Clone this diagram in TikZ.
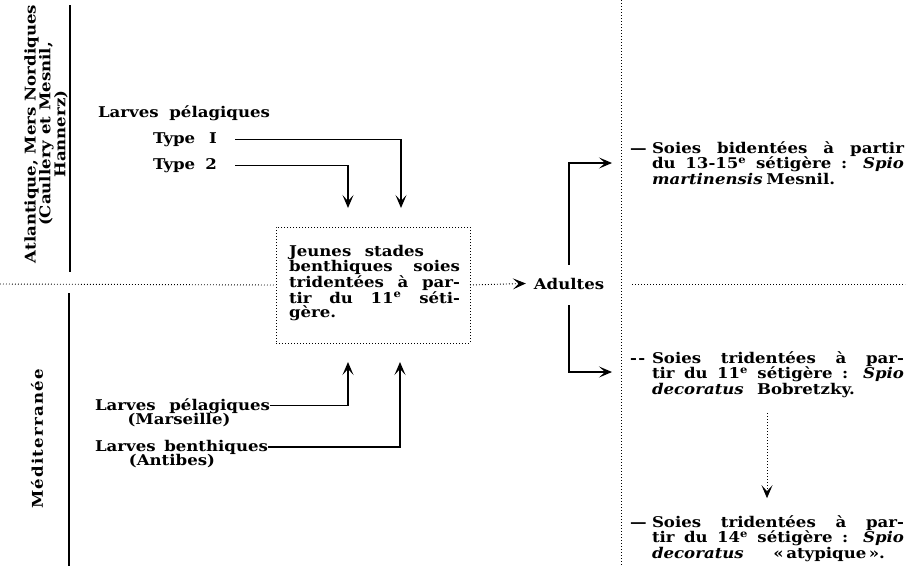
\documentclass[tikz,border=0pt]{standalone}
\usepackage{fontspec}
\setmainfont[FakeStretch=1.12]{DejaVu Serif}
\usetikzlibrary{arrows.meta}
% a line of text spread to the full width of the surrounding parbox
\newcommand\fillline[1]{\makebox[\linewidth][s]{#1}}
\newcommand\spreadto[2]{\makebox[#1][s]{#2}}
% hanging mark set to the left of a paragraph's first line
\newcommand\hangmark[1]{\leavevmode\llap{\makebox[22pt][l]{#1}}}

\begin{document}
\begin{tikzpicture}[x=1pt,y=-1pt,
  every node/.style={inner sep=0pt, outer sep=0pt,
    font=\bfseries\fontsize{14.8}{14.2}\selectfont},
  solidline/.style={line width=1.2pt},
  dotline/.style={line width=0.9pt, dash pattern=on 0.9pt off 2.1pt},
  tip/.style={-{Stealth[length=13pt,width=11pt,inset=6pt]}},
  txt/.style={anchor=base west},
]
\useasboundingbox (0,0) rectangle (910,566);

% ---- frame: region separators ----
\draw[solidline] (70,5) -- (70,272);
\draw[solidline] (69,293) -- (69,566);
\draw[dotline] (621,0) -- (621,566);

% ---- region labels ----
\node[rotate=90, align=center, font=\bfseries\fontsize{14.8}{14.8}\selectfont] (atl) at (46,134)
  {\spreadto{258pt}{Atlantique, Mers Nordiques}\\(Caullery et Mesnil,\\Hannerz)};
\node[rotate=90] (med) at (37,439) {\addfontfeature{LetterSpace=8}Méditerranée};

% ---- larvae, upper region ----
\node[txt] (lpel) at (98,117) {\spreadto{172pt}{Larves pélagiques}};
\node[txt] (t1) at (153,143) {\spreadto{64pt}{Type I}};
\node[txt] (t2) at (153,169) {\spreadto{64pt}{Type 2}};

% ---- young benthic stages ----
\node[draw, dotline, minimum width=194pt, minimum height=116pt] (box) at (373,285) {};
\node[txt] (boxtxt) at (289,256) {\parbox[t]{171pt}{%
  \spreadto{135pt}{Jeunes stades}\\
  \fillline{benthiques soies}\\
  \fillline{tridentées à par-}\\
  \fillline{tir du 11\textsuperscript{e} séti-}\\
  gère.}};

% ---- larvae, lower region ----
\node[txt] (lpm) at (95,410) {\spreadto{175pt}{Larves pélagiques}};
\node[anchor=base] (mars) at (179,424) {(Marseille)};
\node[txt] (lba) at (95,451) {\spreadto{173pt}{Larves benthiques}};
\node[anchor=base] (anti) at (172,465) {(Antibes)};

% ---- adults ----
\node[anchor=base] (adultes) at (569,289) {Adultes};

% ---- outcomes ----
\node[txt] (sp1) at (652,153) {\parbox[t]{252pt}{%
  \hangmark{—}\fillline{Soies bidentées à partir}\\
  \fillline{du 13-15\textsuperscript{e} sétigère : \textit{Spio}}\\
  \spreadto{155pt}{\textit{martinensis} Mesnil.}}};
\node[txt] (sp2) at (652,363) {\parbox[t]{252pt}{%
  \hangmark{-\kern1.5pt-}\fillline{Soies tridentées à par-}\\
  \fillline{tir du 11\textsuperscript{e} sétigère : \textit{Spio}}\\
  \spreadto{203pt}{\textit{decoratus} Bobretzky.}}};
\node[txt] (sp3) at (652,527) {\parbox[t]{252pt}{%
  \hangmark{—}\fillline{Soies tridentées à par-}\\
  \fillline{tir du 14\textsuperscript{e} sétigère : \textit{Spio}}\\
  \spreadto{233pt}{\textit{decoratus} «\,atypique\,».}}};

% ---- arrow targets ----
\coordinate (tstart) at (235,0);
\coordinate (t1tip) at (401,208);
\coordinate (t2tip) at (348,208);
\coordinate (lpmtip) at (348,362);
\coordinate (lbatip) at (400,362);
\coordinate (sp1tip) at (612,163);
\coordinate (sp2tip) at (612,372);
\coordinate (dtop) at (767,413);

% ---- connectors ----
\draw[solidline,tip] (t1.east -| tstart) -| (t1tip);
\draw[solidline,tip] (t2.east -| tstart) -| (t2tip);
\draw[solidline,tip] (lpm.east) -| (lpmtip);
\draw[solidline,tip] (lba.east) -| (lbatip);

\draw[dotline] (0,284) -- (box.west);
\draw[dotline,tip] (box.east) -- ([xshift=-8pt]adultes.west);
\draw[dotline] (632,284) -- (905,284);

\draw[solidline,tip] (adultes.north) ++(0,-13) |- (sp1tip);
\draw[solidline,tip] (adultes.south) ++(0,16) |- (sp2tip);

\draw[dotline,tip,shorten >=17pt] (dtop) -- (dtop |- sp3.north);
\end{tikzpicture}
\end{document}
